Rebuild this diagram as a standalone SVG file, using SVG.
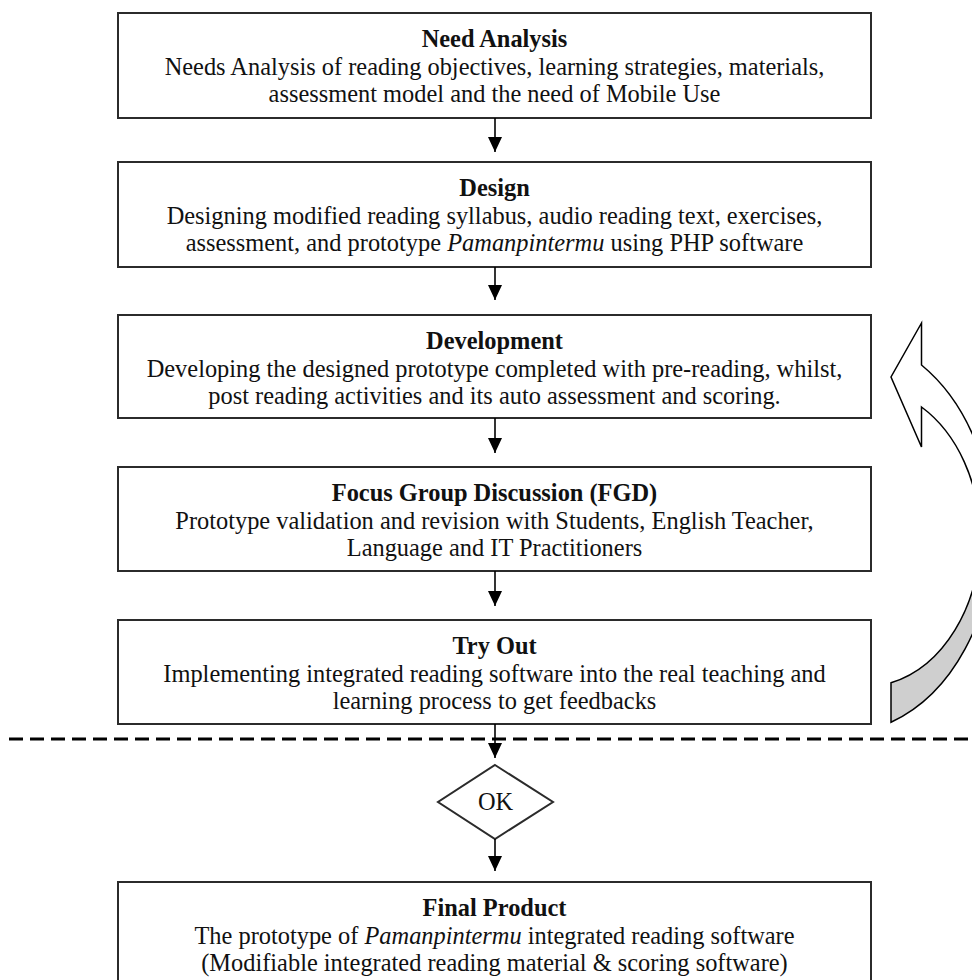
<svg xmlns="http://www.w3.org/2000/svg" width="972" height="980" viewBox="0 0 972 980">
<style>
.box{fill:#fff;stroke:#2b2b2b;stroke-width:2}
.t{font-family:"Liberation Serif","Times New Roman",serif;font-size:24.4px;fill:#111;text-anchor:middle}
.b{font-weight:bold}
.conn{stroke:#000;stroke-width:1.6;fill:none}
.ca{stroke:#000;stroke-width:1.5;stroke-linejoin:miter}
</style>
<defs>
<marker id="ah" viewBox="0 0 15 14" refX="15" refY="7" markerWidth="15" markerHeight="14" markerUnits="userSpaceOnUse" orient="auto">
<path d="M0,0 L15,7 L0,14 Z" fill="#000"/>
</marker>
</defs>
<rect width="972" height="980" fill="#fff"/>

<g id="need-analysis">
<rect class="box" x="118" y="13" width="753" height="105"/>
<text class="t b" x="494.5" y="47">Need Analysis</text>
<text class="t" x="494.5" y="75">Needs Analysis of reading objectives, learning strategies, materials,</text>
<text class="t" x="494.5" y="102">assessment model and the need of Mobile Use</text>
</g>

<g id="design">
<rect class="box" x="118" y="162" width="753" height="105"/>
<text class="t b" x="494.5" y="196">Design</text>
<text class="t" x="494.5" y="224">Designing modified reading syllabus, audio reading text, exercises,</text>
<text class="t" x="494.5" y="251">assessment, and prototype <tspan font-style="italic">Pamanpintermu</tspan> using PHP software</text>
</g>

<g id="development">
<rect class="box" x="118" y="315" width="753" height="103"/>
<text class="t b" x="494.5" y="349">Development</text>
<text class="t" x="494.5" y="377">Developing the designed prototype completed with pre-reading, whilst,</text>
<text class="t" x="494.5" y="404">post reading activities and its auto assessment and scoring.</text>
</g>

<g id="fgd">
<rect class="box" x="118" y="467" width="753" height="104"/>
<text class="t b" x="494.5" y="501">Focus Group Discussion (FGD)</text>
<text class="t" x="494.5" y="529">Prototype validation and revision with Students, English Teacher,</text>
<text class="t" x="494.5" y="556">Language and IT Practitioners</text>
</g>

<g id="try-out">
<rect class="box" x="118" y="620" width="753" height="104"/>
<text class="t b" x="494.5" y="654">Try Out</text>
<text class="t" x="494.5" y="682">Implementing integrated reading software into the real teaching and</text>
<text class="t" x="494.5" y="709">learning process to get feedbacks</text>
</g>

<g id="ok">
<polygon class="box" points="495,765 553,802 495,839 438,802"/>
<text class="t" x="495.5" y="810">OK</text>
</g>

<g id="final-product">
<rect class="box" x="118" y="882" width="753" height="110"/>
<text class="t b" x="494.5" y="916">Final Product</text>
<text class="t" x="494.5" y="944">The prototype of <tspan font-style="italic">Pamanpintermu</tspan> integrated reading software</text>
<text class="t" x="494.5" y="971">(Modifiable integrated reading material &amp; scoring software)</text>
</g>

<g id="feedback-arrow">
<path class="ca" fill="#cfcfcf" d="M993,534 A154,200 0 0 1 891,722.3 L891,682.8 A116,150 0 0 0 980,537 Z"/>
<path class="ca" fill="#fff" d="M921.5,365 A154,200 0 0 1 993,534 L980,537 A116,150 0 0 0 921.5,407 L921.5,447 L891,377 L921.5,323 Z"/>
</g>

<g id="separator">
<line x1="9" y1="739" x2="972" y2="739" stroke="#000" stroke-width="3" stroke-dasharray="14 7"/>
</g>

<g id="connectors">
<line class="conn" x1="495" y1="118" x2="495" y2="152" marker-end="url(#ah)"/>
<line class="conn" x1="495" y1="267" x2="495" y2="300" marker-end="url(#ah)"/>
<line class="conn" x1="495" y1="418" x2="495" y2="453" marker-end="url(#ah)"/>
<line class="conn" x1="495" y1="571" x2="495" y2="606" marker-end="url(#ah)"/>
<line class="conn" x1="495" y1="724" x2="495" y2="758" marker-end="url(#ah)"/>
<line class="conn" x1="495" y1="839" x2="495" y2="871" marker-end="url(#ah)"/>
</g>
</svg>
